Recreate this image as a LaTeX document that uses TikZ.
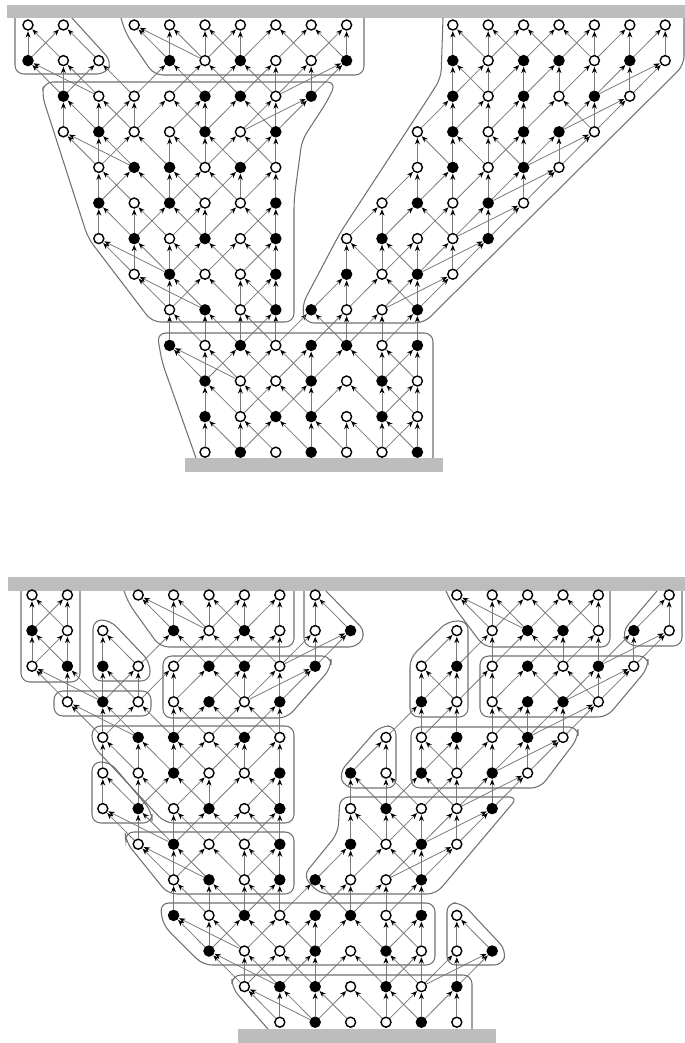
\documentclass[tikz,border=0pt]{standalone}
\usepackage{tikz}
\usetikzlibrary{arrows.meta}
\definecolor{rahmen}{HTML}{707070}
\definecolor{wandgrau}{HTML}{BDBDBD}
\definecolor{pfeilgrau}{HTML}{7A7A7A}

\begin{document}
\begin{tikzpicture}[x=0.2mm, y=-0.2mm,
      leer/.style={circle, draw=black, line width=0.8pt, fill=white,
        inner sep=0pt, minimum size=2mm},
      voll/.style={circle, draw=black, line width=0.8pt, fill=black,
        inner sep=0pt, minimum size=2mm},
      pfeil/.style={-{Stealth[length=3.6pt, width=2.8pt, color=black]},
        pfeilgrau, line width=0.45pt, shorten >=0.3pt},
      rand/.style={rahmen, line width=0.6pt, rounded corners=5pt},
      wand/.style={fill=wandgrau, draw=none}]
    \useasboundingbox (0,0) rectangle (685,1043);

    % oberes Bild
    \fill[wand] (7,5) rectangle (685,18);
    \fill[wand] (185,458) rectangle (443,472);
    \foreach \r/\reihe in {
        0/{0/leer,1/leer,3/leer,4/leer,5/leer,6/leer,7/leer,8/leer,9/leer,12/leer,13/leer,14/leer,15/leer,16/leer,17/leer,18/leer},
        1/{0/voll,1/leer,2/leer,4/voll,5/leer,6/voll,7/leer,8/leer,9/voll,12/voll,13/leer,14/voll,15/voll,16/leer,17/voll,18/leer},
        2/{1/voll,2/leer,3/leer,4/leer,5/voll,6/voll,7/leer,8/voll,12/voll,13/leer,14/voll,15/leer,16/voll,17/leer},
        3/{1/leer,2/voll,3/leer,4/leer,5/voll,6/leer,7/voll,11/leer,12/voll,13/leer,14/voll,15/voll,16/leer},
        4/{2/leer,3/voll,4/voll,5/leer,6/voll,7/leer,11/leer,12/voll,13/leer,14/voll,15/leer},
        5/{2/voll,3/leer,4/voll,5/leer,6/leer,7/voll,10/leer,11/voll,12/leer,13/voll,14/leer},
        6/{2/leer,3/voll,4/leer,5/voll,6/leer,7/voll,9/leer,10/voll,11/leer,12/leer,13/voll},
        7/{3/leer,4/voll,5/leer,6/leer,7/voll,9/voll,10/leer,11/voll,12/leer},
        8/{4/leer,5/voll,6/leer,7/voll,8/voll,9/leer,10/leer,11/voll},
        9/{4/voll,5/leer,6/voll,7/leer,8/voll,9/voll,10/leer,11/voll},
        10/{5/voll,6/leer,7/leer,8/voll,9/leer,10/voll,11/leer},
        11/{5/voll,6/leer,7/voll,8/voll,9/leer,10/voll,11/leer},
        12/{5/leer,6/voll,7/leer,8/voll,9/leer,10/leer,11/voll}}
      \foreach \c/\art in \reihe
        \node[\art] (o-\c-\r) at ({28+35.4*\c},{25+35.6*\r}) {};
    \foreach \r/\kanten in {
        0/{0/0/1,1/0/2,3/4/5,4/4/5,5/5/6,6/5/6,7/6/8,8/7/9,9/8/9,12/12/13,13/13/14,14/13/15,15/14/16,16/16/15,17/17/16,18/17/18},
        1/{0/1/2,1/1/2,2/1/3,4/3/5,5/4/6,6/5/7,7/6/7,8/7/8,9/7/8,12/12/13,13/12/13,14/14/13,15/14/15,16/16/15,17/16/17,18/17/16},
        2/{1/1/2,2/2/3,3/2/3,4/3/5,5/5/4,6/5/7,7/7/6,8/6/7,12/11/12,13/12/13,14/14/13,15/14/16,16/15/16,17/15/16},
        3/{1/2/3,2/2/3,3/2/4,4/4/5,5/5/6,6/5/7,7/7/6,11/11/12,12/12/13,13/13/14,14/14/13,15/14/15,16/14/15},
        4/{2/2/3,3/2/4,4/4/5,5/4/6,6/6/5,7/7/6,11/10/11,12/12/11,13/12/13,14/13/14,15/13/14},
        5/{2/2/3,3/3/4,4/3/5,5/5/4,6/5/7,7/7/6,10/9/10,11/10/12,12/11/12,13/12/13,14/12/13},
        6/{2/3/4,3/3/4,4/4/5,5/4/6,6/7/5,7/7/6,9/9/10,10/10/11,11/11/10,12/11/12,13/11/12},
        7/{3/4/5,4/4/5,5/4/6,6/6/7,7/7/6,9/8/9,10/9/11,11/10/11,12/10/11},
        8/{4/4/5,5/5/6,6/6/7,7/7/6,8/7/9,9/8/9,10/9/10,11/11/10},
        9/{4/5/6,5/5/6,6/5/7,7/6/8,8/8/7,9/8/10,10/10/11,11/11/10},
        10/{5/5/6,6/6/7,7/6/8,8/8/7,9/8/10,10/10/11,11/10/11},
        11/{5/5/6,6/6/7,7/8/6,8/8/9,9/9/10,10/10/11,11/11/10}} {
      \pgfmathtruncatemacro\s{\r+1}
      \foreach \c/\a/\b in \kanten {
        \draw[pfeil] (o-\a-\s) -- (o-\c-\r);
        \draw[pfeil] (o-\b-\s) -- (o-\c-\r);
      }
    }
    \draw[rand] (15,18) -- (15,74) -- (106,74) -- (112,62) -- (72,18);
    \draw[rand] (121,18) -- (126,34) -- (154,75) -- (364,75) -- (364,18);
    \draw[rand] (44,82) -- (336,82) -- (328,100) -- (302,140) -- (294,200)
      -- (294,322) -- (152,322) -- (88,238) -- (42,95) -- cycle;
    \draw[rand] (443,18) -- (441,78) -- (427,100) -- (340,233) -- (302,305)
      -- (305,323) -- (424,323) -- (684,65) -- (684,18);
    \draw[rand] (196,458) -- (162,362) -- (157,333) -- (433,333) -- (433,458);

    % unteres Bild
    \fill[wand] (8,577) rectangle (685,591);
    \fill[wand] (238,1029) rectangle (496,1043);
    \foreach \r/\reihe in {
        0/{0/leer,1/leer,3/leer,4/leer,5/leer,6/leer,7/leer,8/leer,12/leer,13/leer,14/leer,15/leer,16/leer,18/leer},
        1/{0/voll,1/leer,2/leer,4/voll,5/leer,6/voll,7/leer,8/leer,9/voll,12/leer,13/leer,14/voll,15/voll,16/leer,17/voll,18/leer},
        2/{0/leer,1/voll,2/voll,3/leer,4/leer,5/voll,6/voll,7/leer,8/voll,11/leer,12/voll,13/leer,14/voll,15/leer,16/voll,17/leer},
        3/{1/leer,2/voll,3/leer,4/leer,5/voll,6/leer,7/voll,11/voll,12/leer,13/leer,14/voll,15/voll,16/leer},
        4/{2/leer,3/voll,4/voll,5/leer,6/voll,7/leer,10/leer,11/leer,12/voll,13/leer,14/voll,15/leer},
        5/{2/leer,3/leer,4/voll,5/leer,6/leer,7/voll,9/voll,10/leer,11/voll,12/leer,13/voll,14/leer},
        6/{2/leer,3/voll,4/leer,5/voll,6/leer,7/voll,9/leer,10/voll,11/leer,12/leer,13/voll},
        7/{3/leer,4/voll,5/leer,6/leer,7/voll,9/voll,10/leer,11/voll,12/leer},
        8/{4/leer,5/voll,6/leer,7/voll,8/voll,9/leer,10/leer,11/voll},
        9/{4/voll,5/leer,6/voll,7/leer,8/voll,9/voll,10/leer,11/voll,12/leer},
        10/{5/voll,6/leer,7/leer,8/voll,9/leer,10/voll,11/leer,12/leer,13/voll},
        11/{6/leer,7/voll,8/voll,9/leer,10/voll,11/leer,12/voll},
        12/{7/leer,8/voll,9/leer,10/leer,11/voll,12/leer}}
      \foreach \c/\art in \reihe
        \node[\art] (u-\c-\r) at ({32+35.4*\c},{595+35.6*\r}) {};
    \foreach \r/\kanten in {
        0/{0/0/1,1/0/1,3/4/5,4/4/5,5/5/6,6/6/5,7/7/6,8/8/9,12/13/14,13/13/14,14/13/15,15/14/16,16/16/15,18/17/18},
        1/{0/0/1,1/1/0,2/2/3,4/3/5,5/4/6,6/5/7,7/6/7,8/7/8,9/7/8,12/11/12,13/12/13,14/13/15,15/14/15,16/16/15,17/16/17,18/17/16},
        2/{0/1/2,1/1/2,2/2/3,3/2/3,4/3/4,5/4/6,6/5/6,7/6/7,8/6/7,11/11/12,12/11/12,13/12/13,14/13/15,15/14/16,16/15/16,17/15/16},
        3/{1/2/3,2/2/3,3/2/4,4/4/5,5/4/6,6/5/7,7/6/7,11/10/11,12/11/12,13/13/14,14/13/14,15/14/15,16/14/15},
        4/{2/2/3,3/3/4,4/4/5,5/4/6,6/5/6,7/7/6,10/9/10,11/11/12,12/11/12,13/12/13,14/13/14,15/13/14},
        5/{2/2/3,3/3/4,4/3/5,5/5/4,6/5/7,7/7/6,9/9/10,10/10/11,11/10/12,12/11/12,13/12/13,14/12/13},
        6/{2/3/4,3/3/4,4/4/5,5/4/6,6/5/7,7/7/6,9/9/10,10/10/11,11/11/10,12/11/12,13/11/12},
        7/{3/4/5,4/4/5,5/4/6,6/6/7,7/7/6,9/8/9,10/9/11,11/10/11,12/10/11},
        8/{4/4/5,5/5/6,6/6/7,7/7/6,8/7/9,9/8/9,10/9/10,11/11/10},
        9/{4/5/6,5/5/6,6/5/7,7/6/8,8/8/7,9/8/10,10/10/11,11/11/10,12/12/13},
        10/{5/6/7,6/6/7,7/6/8,8/8/7,9/8/10,10/10/11,11/10/11,12/11/12,13/12/11},
        11/{6/7/8,7/7/8,8/8/9,9/8/10,10/10/11,11/11/10,12/11/12}} {
      \pgfmathtruncatemacro\s{\r+1}
      \foreach \c/\a/\b in \kanten {
        \draw[pfeil] (u-\a-\s) -- (u-\c-\r);
        \draw[pfeil] (u-\b-\s) -- (u-\c-\r);
      }
    }
    \draw[rand] (21,591) -- (21,682) -- (80,682) -- (80,591);
    \draw[rand] (93,620) -- (93,681) -- (150,681) -- (150,662) -- (110,620) -- cycle;
    \draw[rand] (54,691) rectangle (151,716);
    \draw[rand] (124,591) -- (129,604) -- (160,647) -- (294,647) -- (294,591);
    \draw[rand] (304,591) -- (304,647) -- (358,647) -- (366,632) -- (326,591);
    \draw[rand] (163,656) -- (331,656) -- (331,668) -- (287,718) -- (163,718) -- cycle;
    \draw[rand] (92,726) -- (294,726) -- (294,823) -- (165,823) -- (92,745) -- cycle;
    \draw[rand] (92,762) -- (92,823) -- (152,823) -- (152,812) -- (110,762) -- cycle;
    \draw[rand] (125,832) -- (294,832) -- (294,894) -- (168,894) -- (126,842) -- cycle;
    \draw[rand] (340,797) -- (518,797) -- (436,894) -- (320,894) -- (303,876)
      -- (338,833) -- cycle;
    \draw[rand] (160,903) -- (435,903) -- (435,965) -- (203,965) -- (163,925) -- cycle;
    \draw[rand] (447,903) -- (447,965) -- (503,965) -- (506,950) -- (462,903) -- cycle;
    \draw[rand] (268,1029) -- (232,988) -- (232,975) -- (472,975) -- (472,1029);
    \draw[rand] (446,591) -- (452,604) -- (484,647) -- (610,647) -- (610,591);
    \draw[rand] (682,591) -- (682,646) -- (628,646) -- (622,632) -- (657,591);
    \draw[rand] (480,656) -- (648,656) -- (648,668) -- (607,717) -- (480,717) -- cycle;
    \draw[rand] (468,621) -- (468,717) -- (410,717) -- (410,658) -- (448,621) -- cycle;
    \draw[rand] (396,726) -- (396,788) -- (345,788) -- (339,773) -- (380,726) -- cycle;
    \draw[rand] (411,727) -- (578,727) -- (578,738) -- (540,788) -- (411,788) -- cycle;
  \end{tikzpicture}
\end{document}
